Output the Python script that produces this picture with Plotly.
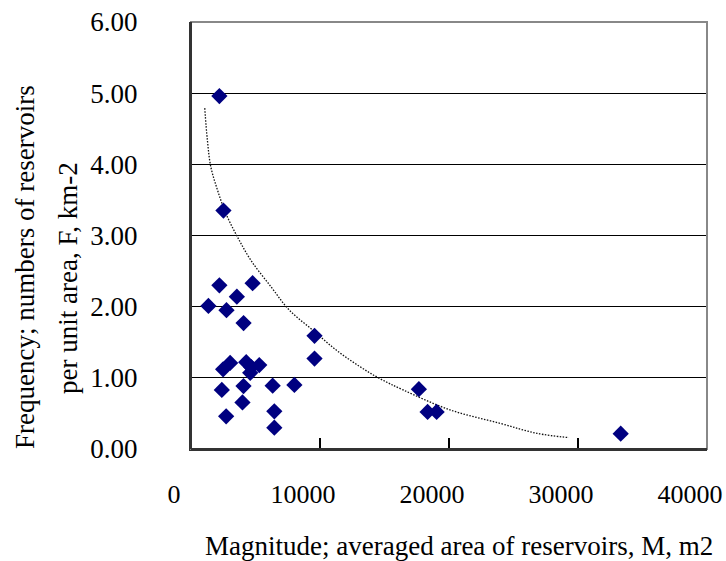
import plotly.graph_objects as go

# Observed reservoirs: magnitude M (m2) vs frequency F (km-2)
magnitude = [2200, 2515, 2200, 4775, 3555, 1350, 2750, 4075, 9575, 9575,
             2490, 3035, 4280, 4670, 5290, 4590, 2390, 4070, 3990, 6330,
             8015, 2725, 6460, 6460, 17665, 18340, 19040, 33310]
frequency = [4.96, 3.35, 2.30, 2.33, 2.14, 2.01, 1.95, 1.77, 1.59, 1.27,
             1.12, 1.21, 1.22, 1.15, 1.18, 1.07, 0.83, 0.885, 0.655, 0.89,
             0.90, 0.46, 0.53, 0.30, 0.84, 0.52, 0.52, 0.215]

# Trend curve
trend_x = [1065, 1270, 1530, 2050, 2700, 3600, 4650, 6200, 7630, 9440,
           11260, 13070, 14630, 16445, 20078, 23970, 26820, 29290]
trend_y = [4.79, 4.34, 3.97, 3.64, 3.31, 2.98, 2.65, 2.28, 1.95, 1.67,
           1.39, 1.16, 0.99, 0.83, 0.55, 0.36, 0.22, 0.16]

x_ticks = [0, 10000, 20000, 30000, 40000]
y_ticks = [0, 1, 2, 3, 4, 5, 6]

FONT = "Liberation Serif, Times New Roman, serif"
FS = 27
TFS = 26

fig = go.Figure()
fig.add_trace(go.Scatter(x=trend_x, y=trend_y, mode="lines",
                         line=dict(color="#111111", width=1.3, dash="1.5px,1.5px", shape="spline"),
                         hoverinfo="skip", showlegend=False))
fig.add_trace(go.Scatter(x=magnitude, y=frequency, mode="markers",
                         marker=dict(symbol="diamond", size=12.5, color="#000080",
                                     line=dict(width=0)),
                         showlegend=False))

fig.update_layout(
    width=726, height=561,
    margin=dict(l=191, r=19, t=22, b=112),
    paper_bgcolor="white", plot_bgcolor="white",
    font=dict(family=FONT, size=FS, color="black"),
    xaxis=dict(range=[0, 40000], tickvals=x_ticks, ticktext=[str(v) for v in x_ticks],
               showgrid=False, zeroline=False, automargin=False,
               showline=True, linecolor="#333333", linewidth=2,
               ticks="inside", ticklen=11, tickwidth=1.5, tickcolor="black",
               ticklabelstandoff=21, ticklabelshift=-17, ticklabeloverflow="allow",
               tickfont=dict(size=TFS)),
    yaxis=dict(range=[0, 6], tickvals=y_ticks, ticktext=["%.2f" % v for v in y_ticks],
               showgrid=True, gridcolor="black", gridwidth=1.2, zeroline=False,
               automargin=False,
               showline=True, linecolor="#333333", linewidth=2,
               ticks="inside", ticklen=10, tickwidth=1.2, tickcolor="black",
               ticklabelstandoff=46, ticklabeloverflow="allow",
               tickfont=dict(size=FS)),
    shapes=[dict(type="rect", xref="paper", yref="paper", x0=0, x1=1, y0=0, y1=1,
                 line=dict(color="#888888", width=2), layer="above")],
    annotations=[
        dict(text="Magnitude; averaged area of reservoirs, M, m2", xref="paper", yref="paper",
             x=(459 - 191) / 516, y=(449 - 546) / 427, showarrow=False,
             xanchor="center", yanchor="middle", font=dict(size=FS)),
        dict(text="Frequency; numbers of reservoirs", xref="paper", yref="paper",
             x=(25 - 191) / 516, y=(449 - 267) / 427, showarrow=False, textangle=-90,
             xanchor="center", yanchor="middle", font=dict(size=FS)),
        dict(text="per unit area, F, km-2", xref="paper", yref="paper",
             x=(68 - 191) / 516, y=(449 - 278) / 427, showarrow=False, textangle=-90,
             xanchor="center", yanchor="middle", font=dict(size=FS)),
    ],
)
# redraw left/bottom axis lines dark over the gray frame
fig.add_shape(type="line", xref="paper", yref="paper", x0=0, x1=0, y0=0, y1=1,
              line=dict(color="#333333", width=2), layer="above")
fig.add_shape(type="line", xref="paper", yref="paper", x0=0, x1=1, y0=0, y1=0,
              line=dict(color="#333333", width=2), layer="above")

fig.write_html("out.html", config={"displayModeBar": False},
               post_script="document.body.style.margin='0';document.body.style.overflow='hidden';")
